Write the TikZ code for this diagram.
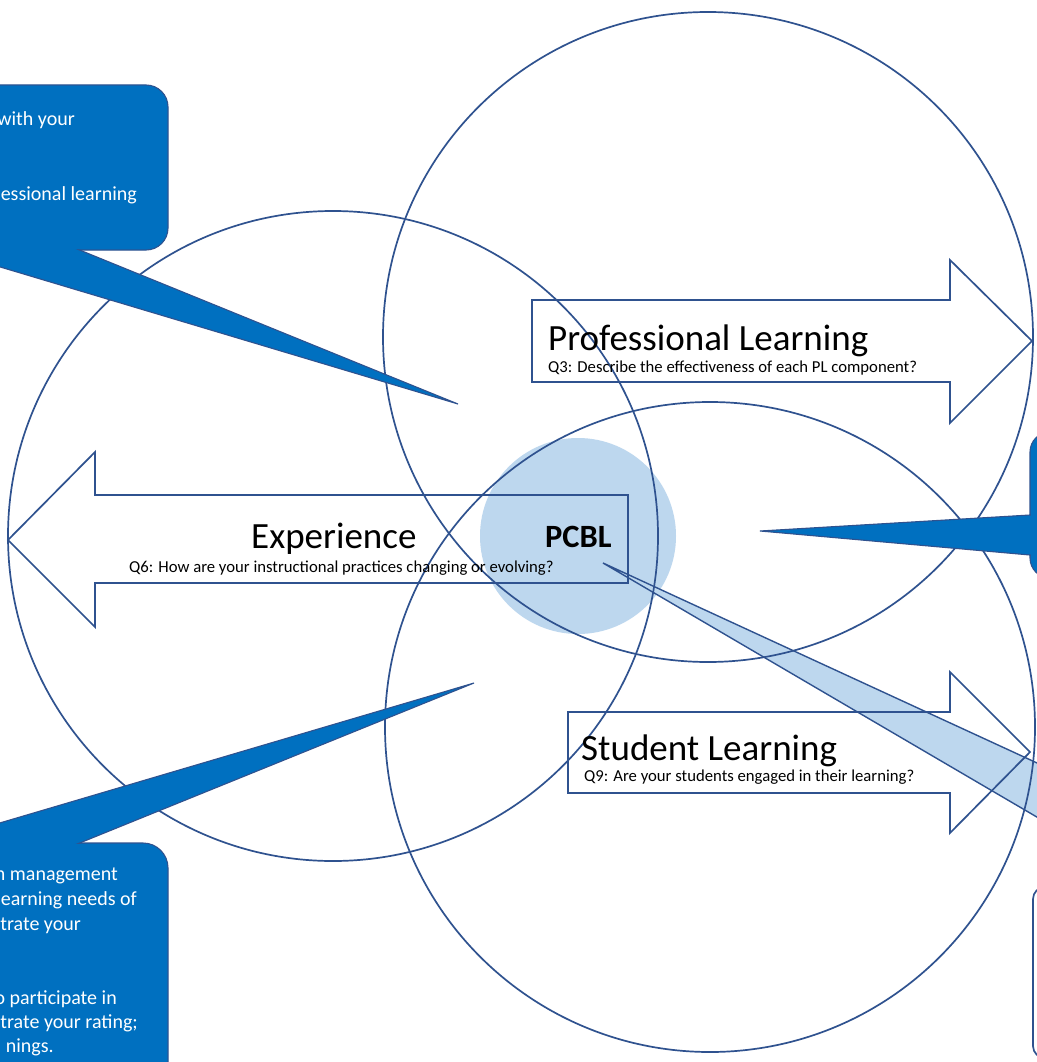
\documentclass[tikz,border=0pt]{standalone}
\usepackage{fontspec}
\setmainfont{Carlito}
\definecolor{lineblue}{HTML}{2F528F}
\definecolor{calloutblue}{HTML}{0070C0}
\definecolor{pcbllight}{HTML}{BDD7EE}
\begin{document}
\begin{tikzpicture}[x=1pt,y=-1pt,
  bigcircle/.style={circle, draw=lineblue, line width=1.7pt, minimum size=650pt, inner sep=0pt, outer sep=0pt},
  arrowshape/.style={draw=lineblue, line width=1.7pt, line join=miter},
  calloutbox/.style={fill=calloutblue, draw=lineblue, line width=1.1pt},
  calloutcore/.style={fill=calloutblue},
  title/.style={font=\fontsize{37}{41}\selectfont, anchor=base west, inner sep=0pt},
  question/.style={font=\fontsize{16.7}{19}\selectfont, anchor=base west, inner sep=0pt},
  calltext/.style={font=\fontsize{20}{24}\selectfont, text=white, anchor=base east, inner sep=0pt},
]
\useasboundingbox (0,0) rectangle (1036,1062);
\fill[white] (0,0) rectangle (1036,1062);

% central PCBL disc with its pointer
\node[circle, fill=pcbllight, minimum size=196pt, inner sep=0pt] (pcbl) at (578,536) {};
\coordinate (pcbltip) at (603,563);
\filldraw[fill=pcbllight, draw=lineblue, line width=1.4pt] (pcbltip) -- (1100,792) -- (1100,854) -- cycle;

% three overlapping circles
\node[bigcircle] (plcircle) at (708,337) {};
\node[bigcircle] (excircle) at (333,536) {};
\node[bigcircle] (slcircle) at (710,727) {};

% block arrows
\draw[arrowshape] (532,300) -- (950,300) -- (950,260) -- (1032,341) -- (950,423) -- (950,382) -- (532,382) -- cycle;
\draw[arrowshape] (628,495) -- (95,495) -- (95,452) -- (8,540) -- (95,627) -- (95,583) -- (628,583) -- cycle;
\draw[arrowshape] (568,712) -- (950,712) -- (950,672) -- (1030,752) -- (950,833) -- (950,793) -- (568,793) -- cycle;

% labels
\node[title] (pltitle) at (548,350) {Professional Learning};
\node[question] (q3) at (548,372) {Q3: Describe the effectiveness of each PL component?};
\node[title] (extitle) at (251,548) {Experience};
\node[question] (q6) at (129,572) {Q6: How are your instructional practices changing or evolving?};
\node[font=\bfseries\fontsize{32.5}{36}\selectfont, anchor=base west, inner sep=0pt] (pcbllabel) at (545,547) {PCBL};
\node[title] (sltitle) at (581,760) {Student Learning};
\node[question] (q9) at (584,781) {Q9: Are your students engaged in their learning?};

% upper left callout
\coordinate (tltip) at (458,404);
\draw[calloutbox, rounded corners=22pt] (-40,85) rectangle (168,250);
\filldraw[calloutbox] (55,240) -- (tltip) -- (-90,240) -- cycle;
\fill[calloutcore, rounded corners=21pt] (-39,86) rectangle (167,249);
\node[calltext] (tl1) at (75,125) {with your};
\node[calltext] (tl2) at (137,200) {essional learning};

% lower left callout
\coordinate (bltip) at (474,683);
\draw[calloutbox, rounded corners=25pt] (-40,843) rectangle (168,1120);
\filldraw[calloutbox] (55,853) -- (bltip) -- (-102,853) -- cycle;
\fill[calloutcore, rounded corners=24pt] (-39,844) rectangle (167,1119);
\node[calltext] (bl1) at (118,880) {n management};
\node[calltext] (bl2) at (137,905) {earning needs of};
\node[calltext] (bl3) at (81,930) {trate your};
\node[calltext] (bl4) at (117,1004) {to participate in};
\node[calltext] (bl5) at (138,1028) {trate your rating;};
\node[calltext] (bl6) at (54,1052) {nings.};

% right callout
\coordinate (rtip) at (760,531);
\draw[calloutbox, rounded corners=20pt] (1030,432) rectangle (1120,578);
\filldraw[calloutbox] (1040,514.4) -- (rtip) -- (1040,555.9) -- cycle;
\fill[calloutcore, rounded corners=19pt] (1031,433) rectangle (1119,577);

% lower right outlined box
\draw[draw=lineblue, fill=white, line width=1.7pt, rounded corners=12pt] (1033,887) rectangle (1120,1058);
\end{tikzpicture}
\end{document}
